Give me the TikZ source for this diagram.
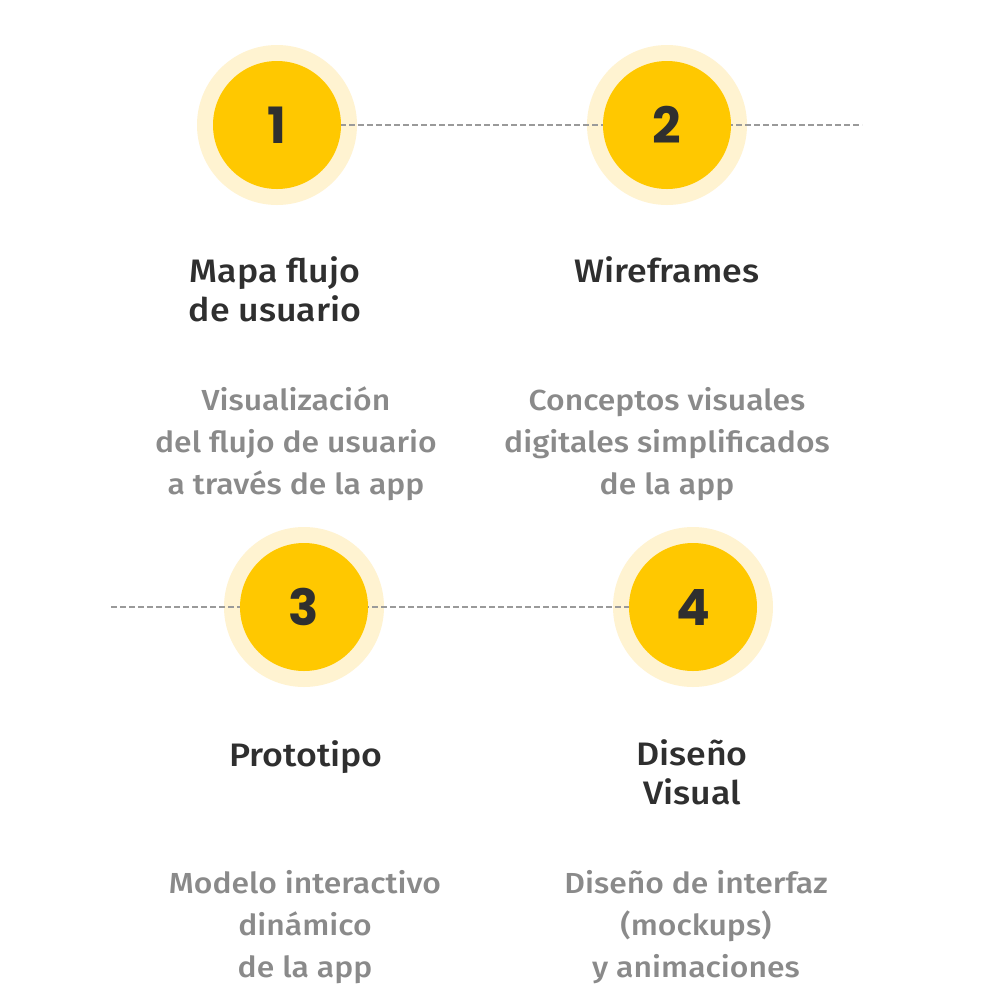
\documentclass[tikz,border=0pt]{standalone}
\usepackage{fontspec}
\setmainfont{Fira Sans}[UprightFont=* Medium,BoldFont=* SemiBold,FakeStretch=1.1]
\newfontfamily\numfont{Poppins}[UprightFont=* Bold]
\definecolor{halo}{HTML}{FFF3D1}
\definecolor{disc}{HTML}{FFC800}
\definecolor{ink}{HTML}{2F2F2F}
\definecolor{muted}{HTML}{8A8A8A}
\definecolor{dashgrey}{HTML}{9A9A9A}
\begin{document}
\begin{tikzpicture}[x=1pt,y=-1pt,
  halodisc/.style={circle,fill=halo,minimum size=160pt,inner sep=0pt},
  maindisc/.style={circle,fill=disc,minimum size=128pt,inner sep=0pt,
    text=ink,font=\numfont\fontsize{50}{50}\selectfont},
  link/.style={draw=dashgrey,line width=1.6pt,dash pattern=on 6pt off 3pt},
  title/.style={anchor=base,align=center,text=ink,inner sep=0pt,
    font=\fontsize{32.5}{39}\selectfont},
  desc/.style={anchor=base,align=center,text=muted,inner sep=0pt,
    font=\fontsize{29}{42}\selectfont}]
\useasboundingbox[fill=white] (0,0) rectangle (1005,1005);

% light halos
\node[halodisc] (h1) at (277,125) {};
\node[halodisc] (h2) at (667,125) {};
\node[halodisc] (h3) at (304,607) {};
\node[halodisc] (h4) at (693,607) {};

% dashed connectors, under the discs
\coordinate (e1) at (862,125);
\coordinate (e3) at (111,607);
\draw[link] (h1.center) -- (e1);
\draw[link] (e3) -- (h4.center);

% numbered discs
\node[maindisc] (s1) at (277,125) {1};
\node[maindisc] (s2) at (667,125) {2};
\node[maindisc] (s3) at (304,607) {3};
\node[maindisc] (s4) at (693,607) {4};

% titles (anchored at the baseline of the last line)
\node[title] (t1) at (275,321) {Mapa flujo\\de usuario};
\node[title] (t2) at (667,282) {Wireframes};
\node[title] (t3) at (306,766) {Prototipo};
\node[title] (t4) at (692,804) {Diseño\\Visual};

% descriptions (anchored at the baseline of the last line)
\node[desc] (d1) at (296,494) {Visualización\\del flujo de usuario\\a través de la app};
\node[desc] (d2) at (667,494) {Conceptos visuales\\digitales simplificados\\de la app};
\node[desc] (d3) at (305,977) {Modelo interactivo\\dinámico\\de la app};
\node[desc] (d4) at (696,977) {Diseño de interfaz\\(mockups)\\y animaciones};
\end{tikzpicture}
\end{document}
